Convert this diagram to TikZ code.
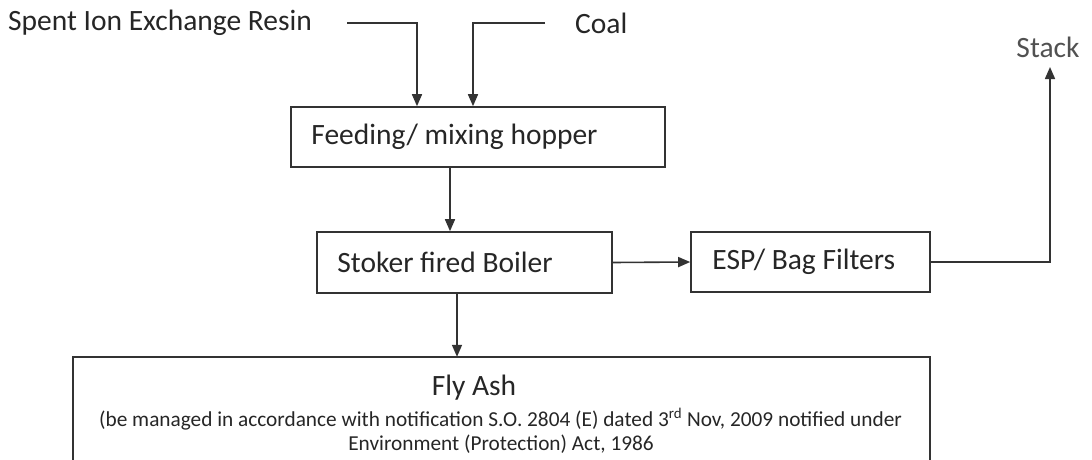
\documentclass[tikz,border=0pt]{standalone}
\usepackage{fontspec}
\setmainfont{Carlito}
\usetikzlibrary{arrows.meta}
\definecolor{ink}{HTML}{262626}
\definecolor{lineink}{HTML}{333333}
\tikzset{
  lbl/.style={inner sep=0pt, text=ink, font=\fontsize{29.5}{33}\selectfont},
  small/.style={inner sep=0pt, text=ink, font=\fontsize{21.3}{24}\selectfont},
  boxnode/.style={draw=lineink, line width=1.6pt, inner sep=0pt},
  arr/.style={draw=lineink, line width=1.6pt, -{Triangle[width=10pt,length=12pt]}},
  conn/.style={draw=lineink, line width=1.6pt}
}
\begin{document}
\begin{tikzpicture}[x=1pt,y=-1pt]
\useasboundingbox (0,0) rectangle (1092,460);
% boxes
\node[boxnode, minimum width=374pt, minimum height=60pt] (hop) at (478,137) {};
\node[boxnode, minimum width=295pt, minimum height=61pt] (boil) at (464.5,262.5) {};
\node[boxnode, minimum width=239pt, minimum height=60pt] (esp) at (810.5,262) {};
\node[inner sep=0pt, minimum width=857pt, minimum height=106pt] (fly) at (501.5,410) {};
\draw[conn] (fly.south west) -- (fly.north west) -- (fly.north east) -- (fly.south east);
% box texts
\node[lbl, anchor=west] (hoptxt) at ([xshift=21pt]hop.west) {Feeding/ mixing hopper};
\node[lbl, anchor=west] (boiltxt) at ([xshift=21pt]boil.west) {Stoker fired Boiler};
\node[lbl, anchor=west] (esptxt) at ([xshift=22pt]esp.west) {ESP/ Bag Filters};
\node[lbl] (flytitle) at (474,388) {Fly Ash};
\node[small] (note1) at (500.5,419) {(be managed in accordance with notification S.O. 2804 (E) dated 3\textsuperscript{rd} Nov, 2009 notified under};
\node[small] (note2) at (501,444) {Environment (Protection) Act, 1986};
% inputs
\node[lbl, anchor=west] (resin) at (8,23) {Spent Ion Exchange Resin};
\node[lbl, anchor=west] (coal) at (575,23) {Coal};
\node[lbl, text=ink!80] (stack) at (1048,47) {Stack};
\coordinate (stk) at (1050,67);
\coordinate (bf) at ([xshift=-7.5pt]boil.south);
% connectors
\draw[arr, shorten <=35pt] (resin.east) -| ([xshift=-61pt]hop.north);
\draw[arr, shorten <=30pt] (coal.west) -| ([xshift=-5pt]hop.north);
\draw[arr] ([xshift=-28pt]hop.south) -- ([xshift=-14.5pt]boil.north);
\draw[arr] (boil.east) -- (esp.west);
\draw[arr] (esp.east) -| (stk);
\draw[arr] (bf) -- (bf |- fly.north);
\end{tikzpicture}
\end{document}
